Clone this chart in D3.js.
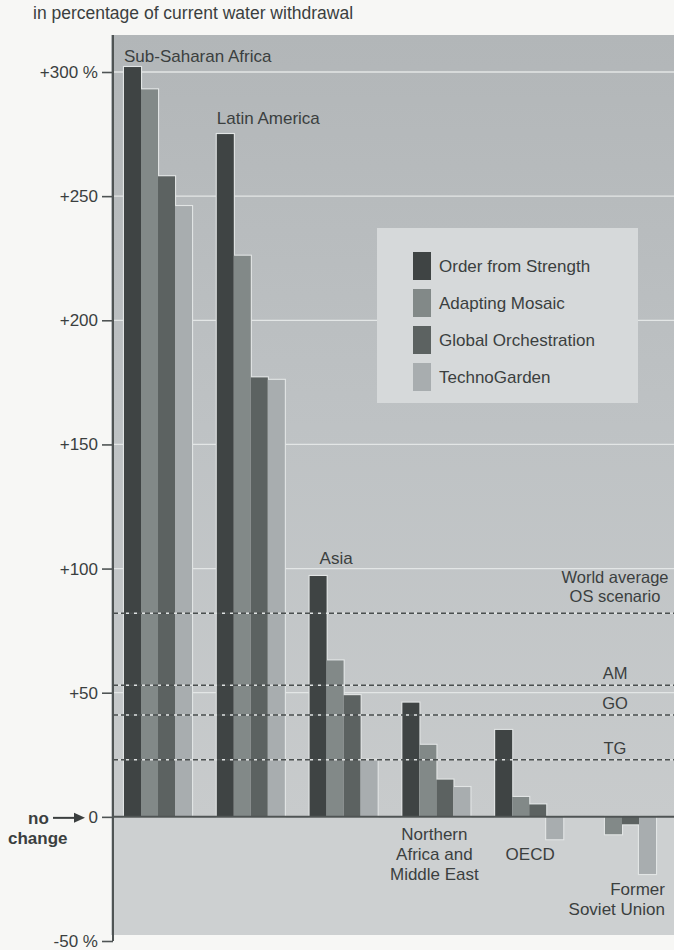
<!DOCTYPE html>
<html>
<head>
<meta charset="utf-8">
<script src="https://cdn.jsdelivr.net/npm/d3@7"></script>
<style>
  html, body { margin: 0; padding: 0; background: #f7f7f5; }
  svg { display: block; }
  text { font-family: "Liberation Sans", Arial, sans-serif; fill: #3b3f3f; }
</style>
</head>
<body>
<svg id="chart" width="674" height="950"></svg>
<script>
// ---------------- DATA ----------------
const regions = ["Sub-Saharan Africa", "Latin America", "Asia",
                 "Northern Africa and Middle East", "OECD", "Former Soviet Union"];
const series = ["Order from Strength", "Adapting Mosaic", "Global Orchestration", "TechnoGarden"];
const orderFromStrength   = [302, 275, 97, 46, 35, 0];
const adaptingMosaic      = [293, 226, 63, 29, 8, -7];
const globalOrchestration = [258, 177, 49, 15, 5, -3];
const technoGarden        = [246, 176, 23, 12, -9, -23];
const worldAverageLabels  = ["OS", "AM", "GO", "TG"];
const worldAverageValues  = [82, 53, 41, 23];
const yTickValues = [-50, 0, 50, 100, 150, 200, 250, 300];
const yTickLabels = ["-50 %", "0", "+50", "+100", "+150", "+200", "+250", "+300 %"];
const regionLabelLines = [["Sub-Saharan Africa"], ["Latin America"], ["Asia"],
                          ["Northern", "Africa and", "Middle East"], ["OECD"], ["Former", "Soviet Union"]];
const title = "in percentage of current water withdrawal";

const seriesValues = [orderFromStrength, adaptingMosaic, globalOrchestration, technoGarden];
const colors = ["#3f4444", "#828988", "#5c6261", "#a8adaf"];

// ---------------- LAYOUT ----------------
const svg = d3.select("#chart");
const panel = { left: 111, right: 674, top: 35, bottom: 935 };
const axisX = 113;

const y = d3.scaleLinear().domain([-50, 300]).range([941, 72]);
const x0 = d3.scaleBand().domain(regions).range([124, 656]).paddingInner(0.267).paddingOuter(0);
const x1 = d3.scaleBand().domain(series).range([0, x0.bandwidth()]).padding(0);

// gradient for the positive area
const defs = svg.append("defs");
const grad = defs.append("linearGradient").attr("id", "bgGrad")
  .attr("x1", 0).attr("y1", 0).attr("x2", 0).attr("y2", 1);
grad.append("stop").attr("offset", "0%").attr("stop-color", "#b2b6b8");
grad.append("stop").attr("offset", "50%").attr("stop-color", "#bec2c4");
grad.append("stop").attr("offset", "100%").attr("stop-color", "#c8cbcc");

svg.append("rect")
  .attr("x", panel.left).attr("y", panel.top)
  .attr("width", panel.right - panel.left).attr("height", y(0) - panel.top)
  .attr("fill", "url(#bgGrad)");
svg.append("rect")
  .attr("x", panel.left).attr("y", y(0))
  .attr("width", panel.right - panel.left).attr("height", panel.bottom - y(0))
  .attr("fill", "#cdd0d1");

// gridlines
svg.append("g").selectAll("line")
  .data(yTickValues.filter(v => v > 0))
  .join("line")
  .attr("x1", axisX).attr("x2", panel.right)
  .attr("y1", d => y(d)).attr("y2", d => y(d))
  .attr("stroke", "#e3e6e6").attr("stroke-width", 1.3);

// bars
const barData = [];
regions.forEach((r, i) => {
  series.forEach((s, j) => {
    barData.push({ region: r, series: s, idx: j, value: seriesValues[j][i] });
  });
});

const barsG = svg.append("g");
const rectAttrs = sel => sel
  .attr("x", d => x0(d.region) + x1(d.series))
  .attr("width", x1.bandwidth())
  .attr("y", d => y(Math.max(0, d.value)))
  .attr("height", d => Math.abs(y(d.value) - y(0)));

// white outline underlay
barsG.append("g").selectAll("rect")
  .data(barData.filter(d => d.value !== 0))
  .join("rect")
  .call(rectAttrs)
  .attr("fill", "#e2e5e5")
  .attr("stroke", "#e2e5e5").attr("stroke-width", 2.2);

barsG.append("g").selectAll("rect")
  .data(barData)
  .join("rect")
  .call(rectAttrs)
  .attr("fill", d => colors[d.idx]);

// world average dashed lines
const wa = svg.append("g");
worldAverageValues.forEach((v, i) => {
  wa.append("line")
    .attr("x1", axisX).attr("x2", panel.right)
    .attr("y1", y(v)).attr("y2", y(v))
    .attr("stroke", "#dfe2e2").attr("stroke-width", 1.6)
    .attr("stroke-dasharray", "3,5").attr("stroke-dashoffset", -5);
  wa.append("line")
    .attr("x1", axisX).attr("x2", panel.right)
    .attr("y1", y(v)).attr("y2", y(v))
    .attr("stroke", "#4a4f4f").attr("stroke-width", 1.6)
    .attr("stroke-dasharray", "5,3");
});

// world average labels
const waLabelX = 615;
const waG = svg.append("g").attr("font-size", 16.5).attr("text-anchor", "middle");
waG.append("text").attr("x", waLabelX).attr("y", y(worldAverageValues[0]) - 30).text("World average");
waG.append("text").attr("x", waLabelX).attr("y", y(worldAverageValues[0]) - 11).text(worldAverageLabels[0] + " scenario");
worldAverageValues.slice(1).forEach((v, i) => {
  waG.append("text").attr("x", waLabelX).attr("y", y(v) - 6).text(worldAverageLabels[i + 1]);
});

// zero line
svg.append("line")
  .attr("x1", axisX).attr("x2", panel.right)
  .attr("y1", y(0)).attr("y2", y(0))
  .attr("stroke", "#4f5454").attr("stroke-width", 2);

// y axis
const yAxis = d3.axisLeft(y)
  .tickValues(yTickValues)
  .tickFormat((d, i) => yTickLabels[i])
  .tickSize(11).tickPadding(4).tickSizeOuter(0);
const ax = svg.append("g").attr("transform", `translate(${axisX},0)`).call(yAxis);
ax.select(".domain").remove();
ax.selectAll(".tick line").attr("stroke", "#4f5454").attr("stroke-width", 1.6);
ax.selectAll(".tick text")
  .attr("font-size", 17).attr("font-family", "Liberation Sans, Arial, sans-serif")
  .attr("fill", "#3b3f3f");
svg.append("line")
  .attr("x1", axisX).attr("x2", axisX)
  .attr("y1", panel.top).attr("y2", y(-50))
  .attr("stroke", "#4f5454").attr("stroke-width", 2);

// "no change" annotation
svg.append("text").attr("x", 28).attr("y", y(0) + 7)
  .attr("font-size", 17).attr("font-weight", "bold").text("no");
svg.append("text").attr("x", 8).attr("y", y(0) + 27)
  .attr("font-size", 17).attr("font-weight", "bold").text("change");
svg.append("line")
  .attr("x1", 53).attr("x2", 76).attr("y1", y(0) + 1).attr("y2", y(0) + 1)
  .attr("stroke", "#3b3f3f").attr("stroke-width", 2);
svg.append("path")
  .attr("d", `M74,${y(0) - 4} L85,${y(0) + 1} L74,${y(0) + 6} Z`)
  .attr("fill", "#3b3f3f");

// region labels
const labelPos = [
  { dx: 0, anchor: "start", y0: 62 },
  { dx: 0, anchor: "start", y0: 124 },
  { dx: 10, anchor: "start", y0: 564 },
  { dx: x0.bandwidth() / 2 - 2, anchor: "middle", y0: 840 },
  { dx: 35, anchor: "middle", y0: 860 },
  { dx: 77, anchor: "end", y0: 895 }
];
const rl = svg.append("g").attr("font-size", 17);
regions.forEach((r, i) => {
  const p = labelPos[i];
  const t = rl.append("text")
    .attr("x", x0(r) + p.dx).attr("y", p.y0)
    .attr("text-anchor", p.anchor);
  regionLabelLines[i].forEach((line, k) => {
    t.append("tspan").attr("x", x0(r) + p.dx).attr("dy", k === 0 ? 0 : 20).text(line);
  });
});

// legend
const lg = svg.append("g").attr("transform", "translate(377,228)");
lg.append("rect").attr("width", 261).attr("height", 175).attr("fill", "#d6d9da");
series.forEach((s, i) => {
  lg.append("rect").attr("x", 36).attr("y", 24 + i * 37)
    .attr("width", 18).attr("height", 28).attr("fill", colors[i]);
  lg.append("text").attr("x", 62).attr("y", 44 + i * 37)
    .attr("font-size", 17).text(s);
});

// title
svg.append("text").attr("x", 33).attr("y", 19).attr("font-size", 17.5).text(title);
</script>
</body>
</html>
